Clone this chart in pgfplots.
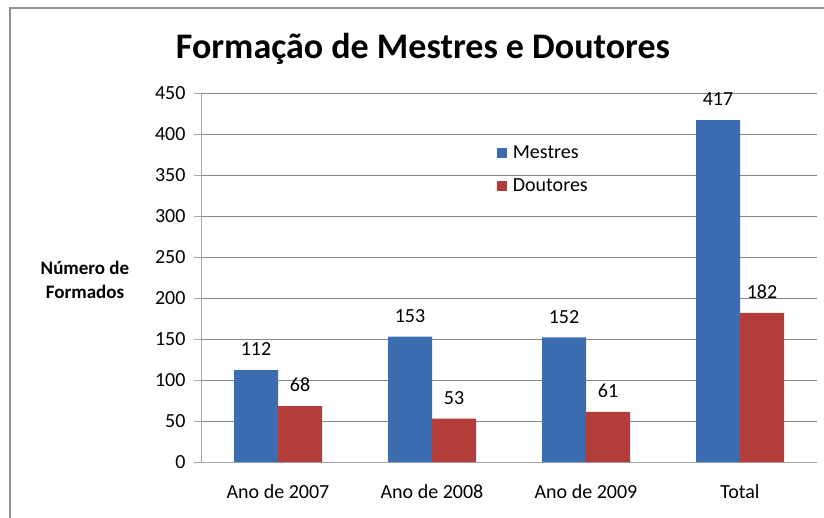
\documentclass[border=0pt]{standalone}
\usepackage{pgfplots}
\pgfplotsset{compat=1.18}
\usepackage{fontspec}
\setmainfont{Carlito}
\definecolor{mblue}{HTML}{3D6DB1}
\definecolor{dred}{HTML}{B33D3A}
\definecolor{gridc}{HTML}{888888}
\begin{document}
\begin{tikzpicture}[x=1pt,y=1pt]
\path[use as bounding box] (0,0) rectangle (824,517);
\fill[white] (0,0) rectangle (824,517);
\draw[gray!85, line width=1.5pt] (10,-2) -- (10,509) -- (826,509);
\node[font=\fontsize{36}{42}\selectfont\bfseries] at (423,468) {Formação de Mestres e Doutores};
\node[font=\fontsize{19}{24}\selectfont\bfseries, align=center] at (85,237) {Número de\\Formados};
\begin{axis}[
  at={(201pt,55pt)}, anchor=south west,
  scale only axis, width=616pt, height=369pt,
  ybar=0pt, bar width=44pt,
  xmin=-0.5, xmax=3.5, ymin=0, ymax=450,
  ytick={0,50,...,450},
  xtick={0,1,2,3},
  xticklabels={Ano de 2007, Ano de 2008, Ano de 2009, Total},
  /pgf/number format/assume math mode=true,
  axis x line*=bottom, axis y line*=left,
  axis line style={-, draw=gray!70, line width=0.8pt},
  ymajorgrids, grid style={draw=gridc, line width=0.8pt},
  tick align=outside,
  ytick style={draw=gray!70, line width=0.8pt},
  major tick length=7pt,
  x tick style={draw=none},
  extra x ticks={-0.5,0.5,1.5,2.5,3.5},
  extra x tick labels={},
  extra x tick style={grid=none, major tick length=6pt, tick style={draw=gray!70, line width=0.8pt}},
  tick label style={font=\fontsize{20}{24}\selectfont},
  xticklabel style={yshift=-12pt},
  yticklabel style={xshift=-5pt},
  nodes near coords,
  every node near coord/.append style={font=\fontsize{20}{24}\selectfont, anchor=south, inner sep=0pt, yshift=14pt, text=black},
  legend style={draw=none, fill=none, at={(0.48,0.793)}, anchor=west,
    font=\fontsize{20}{24}\selectfont, row sep=15pt, inner sep=0pt},
  legend cell align=left,
  legend image code/.code={\fill[#1] (0pt,-5pt) rectangle (10pt,5pt); \path (14pt,0pt);},
]
\addplot[fill=mblue, draw=none] coordinates {(0,112) (1,153) (2,152) (3,417)};
\addlegendentry{Mestres}
\addplot[fill=dred, draw=none] coordinates {(0,68) (1,53) (2,61) (3,182)};
\addlegendentry{Doutores}
\end{axis}
\end{tikzpicture}
\end{document}
